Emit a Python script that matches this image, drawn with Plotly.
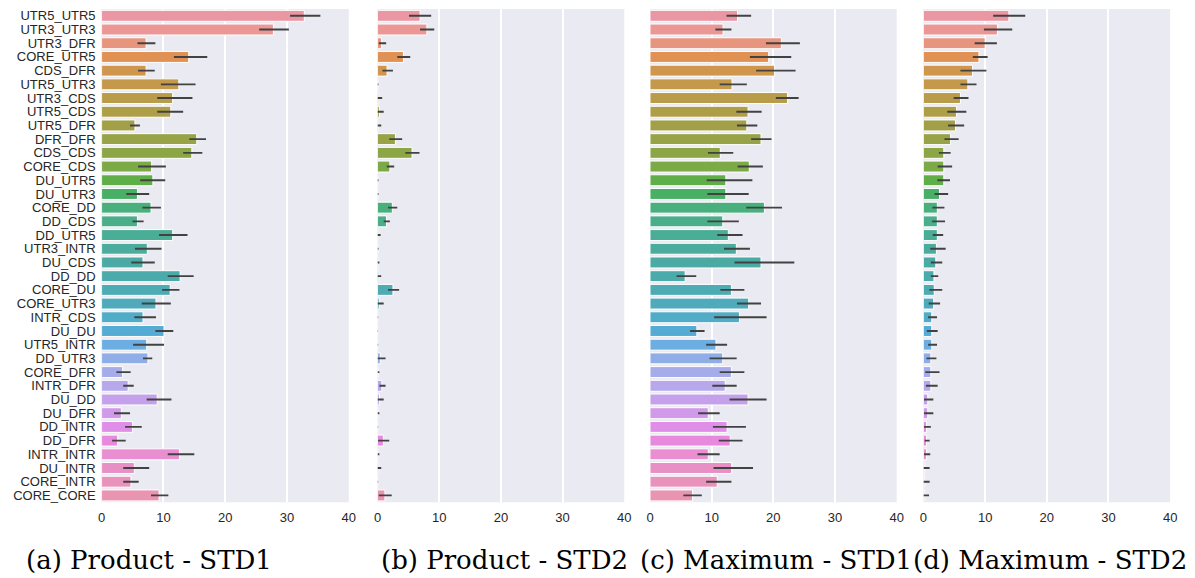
import math
import colorsys
import plotly.graph_objects as go

# ---- data -----------------------------------------------------------------
categories = [
    "UTR5_UTR5", "UTR3_UTR3", "UTR3_DFR", "CORE_UTR5", "CDS_DFR", "UTR5_UTR3",
    "UTR3_CDS", "UTR5_CDS", "UTR5_DFR", "DFR_DFR", "CDS_CDS", "CORE_CDS",
    "DU_UTR5", "DU_UTR3", "CORE_DD", "DD_CDS", "DD_UTR5", "UTR3_INTR",
    "DU_CDS", "DD_DD", "CORE_DU", "CORE_UTR3", "INTR_CDS", "DU_DU",
    "UTR5_INTR", "DD_UTR3", "CORE_DFR", "INTR_DFR", "DU_DD", "DU_DFR",
    "DD_INTR", "DD_DFR", "INTR_INTR", "DU_INTR", "CORE_INTR", "CORE_CORE",
]

# (a) Product - STD1
prod_std1 = [32.8, 27.8, 7.2, 14.1, 7.2, 12.5, 11.5, 11.2, 5.4, 15.4, 14.6, 8.1,
             8.3, 5.8, 8.0, 5.8, 11.5, 7.4, 6.7, 12.7, 11.1, 8.8, 6.7, 10.1,
             7.3, 7.5, 3.4, 4.3, 9.0, 3.2, 5.0, 2.6, 12.6, 5.3, 4.75, 9.3]
prod_std1_lo = [30.5, 25.5, 5.8, 11.7, 5.9, 9.6, 9.0, 9.0, 4.6, 14.2, 13.2, 5.9,
                6.25, 4.0, 6.6, 5.0, 9.3, 5.4, 4.8, 10.7, 9.8, 6.5, 5.3, 8.7,
                5.1, 6.7, 2.4, 3.5, 7.3, 2.0, 3.8, 1.7, 10.7, 3.5, 3.5, 8.0]
prod_std1_hi = [35.4, 30.3, 8.7, 17.1, 8.6, 15.2, 14.7, 13.2, 6.2, 16.9, 16.3, 10.4,
                10.3, 7.7, 9.6, 6.8, 13.9, 9.7, 8.6, 14.9, 12.6, 11.2, 8.8, 11.6,
                10.1, 8.2, 4.7, 5.2, 11.3, 4.6, 6.5, 3.9, 15.0, 7.7, 6.0, 10.8]

# (b) Product - STD2
prod_std2 = [6.9, 8.0, 0.64, 4.2, 1.55, 0.05, 0.2, 0.3, 0.1, 2.9, 5.6, 2.0,
             0.05, 0.05, 2.4, 1.45, 0.1, 0.05, 0.1, 0.2, 2.5, 0.27, 0.03, 0.02,
             0.03, 0.45, 0.1, 0.7, 0.3, 0.1, 0.03, 0.95, 0.1, 0.2, 0.03, 1.2]
prod_std2_lo = [5.1, 6.9, 0.2, 3.2, 0.8, 0.0, 0.0, 0.0, 0.0, 1.9, 4.5, 1.5,
                0.0, 0.0, 1.7, 1.0, 0.0, 0.0, 0.0, 0.0, 1.7, 0.0, 0.0, 0.0,
                0.0, 0.0, 0.0, 0.3, 0.0, 0.0, 0.0, 0.1, 0.0, 0.0, 0.0, 0.2]
prod_std2_hi = [8.7, 9.2, 1.4, 5.3, 2.5, 0.15, 0.75, 1.0, 0.6, 4.0, 6.8, 2.7,
                0.15, 0.15, 3.2, 2.0, 0.5, 0.15, 0.3, 0.6, 3.5, 1.0, 0.1, 0.08,
                0.1, 1.3, 0.3, 1.3, 1.0, 0.3, 0.1, 1.9, 0.3, 0.6, 0.1, 2.3]

# (c) Maximum - STD1
max_std1 = [14.2, 11.85, 21.3, 19.25, 20.2, 13.3, 22.3, 15.9, 15.7, 18.0, 11.4, 16.1,
            12.3, 12.3, 18.55, 11.8, 12.7, 14.0, 18.0, 5.7, 13.2, 16.0, 14.5, 7.6,
            10.7, 11.8, 13.2, 12.2, 15.9, 9.45, 12.5, 13.0, 9.45, 13.25, 10.9, 6.9]
max_std1_lo = [12.4, 10.6, 18.8, 16.2, 17.2, 11.3, 20.4, 14.0, 14.1, 16.4, 9.4, 14.2,
               9.2, 9.3, 15.6, 9.3, 10.9, 12.0, 13.7, 4.3, 11.4, 14.1, 10.4, 6.5,
               9.1, 9.65, 11.3, 10.1, 12.9, 7.8, 10.2, 11.15, 7.7, 10.3, 9.1, 5.4]
max_std1_hi = [16.4, 13.2, 24.3, 22.9, 23.6, 15.7, 24.1, 18.1, 17.4, 19.7, 13.5, 18.3,
               16.6, 16.0, 21.4, 14.4, 15.0, 16.2, 23.4, 7.5, 15.3, 18.0, 18.9, 8.85,
               12.5, 14.05, 15.3, 14.05, 18.9, 11.3, 15.55, 15.0, 11.3, 16.7, 13.2, 8.4]

# (d) Maximum - STD2
max_std2 = [13.85, 12.0, 10.0, 9.0, 7.95, 7.2, 6.0, 5.35, 5.2, 4.4, 3.3, 3.3,
            3.3, 2.6, 2.25, 2.25, 2.25, 2.1, 2.0, 1.7, 1.75, 1.65, 1.35, 1.35,
            1.35, 1.2, 1.2, 1.2, 0.7, 0.7, 0.5, 0.5, 0.5, 0.2, 0.2, 0.2]
max_std2_lo = [11.3, 9.8, 8.3, 8.0, 6.0, 6.0, 4.9, 3.85, 4.0, 3.4, 2.5, 2.3,
               2.25, 1.8, 1.45, 1.4, 1.5, 1.1, 1.2, 1.2, 0.95, 0.85, 0.75, 0.55,
               0.75, 0.5, 0.3, 0.4, 0.1, 0.1, 0.1, 0.2, 0.1, 0.0, 0.0, 0.0]
max_std2_hi = [16.5, 14.4, 11.9, 10.4, 10.2, 8.6, 7.3, 6.95, 6.6, 5.7, 4.4, 4.65,
               4.3, 4.0, 3.4, 3.5, 3.2, 3.6, 3.05, 2.4, 3.05, 2.7, 2.2, 2.3,
               2.2, 2.1, 2.6, 2.3, 1.6, 1.6, 1.2, 1.0, 1.1, 1.0, 1.0, 0.9]

x_ticks = [0, 10, 20, 30, 40]

captions = ["(a) Product - STD1", "(b) Product - STD2",
            "(c) Maximum - STD1", "(d) Maximum - STD2"]

# ---- HUSL palette (evenly spaced hues, desaturated like seaborn bars) -----
_M = [[3.2406, -1.5372, -0.4986],
      [-0.9689, 1.8758, 0.0415],
      [0.0557, -0.2040, 1.0570]]
_REF_U, _REF_V = 0.19784, 0.46834
_LAB_E, _LAB_K = 0.008856, 903.3


def _max_chroma(L, H):
    hrad = math.radians(H)
    sin_h, cos_h = math.sin(hrad), math.cos(hrad)
    sub1 = (L + 16) ** 3 / 1560896.0
    sub2 = sub1 if sub1 > _LAB_E else L / _LAB_K
    result = float("inf")
    for m1, m2, m3 in _M:
        top = (0.99915 * m1 + 1.05122 * m2 + 1.14460 * m3) * sub2
        rbottom = 0.86330 * m3 - 0.17266 * m2
        lbottom = 0.12949 * m3 - 0.38848 * m1
        bottom = (rbottom * sin_h + lbottom * cos_h) * sub2
        for t in (0.0, 1.0):
            c = L * (top - 1.05122 * t) / (bottom + 0.17266 * sin_h * t)
            if 0.0 < c < result:
                result = c
    return result


def _f_inv(t):
    return t ** 3 if t ** 3 > _LAB_E else (116.0 * t - 16.0) / _LAB_K


def _from_linear(c):
    return 12.92 * c if c <= 0.0031308 else 1.055 * c ** (1 / 2.4) - 0.055


def husl_to_rgb(h, s, l):
    C = _max_chroma(l, h) / 100.0 * s
    U = math.cos(math.radians(h)) * C
    V = math.sin(math.radians(h)) * C
    var_y = _f_inv((l + 16.0) / 116.0)
    var_u = U / (13.0 * l) + _REF_U
    var_v = V / (13.0 * l) + _REF_V
    Y = var_y
    X = -(9.0 * Y * var_u) / ((var_u - 4.0) * var_v - var_u * var_v)
    Z = (9.0 * Y - 15.0 * var_v * Y - var_v * X) / (3.0 * var_v)
    rgb = [_from_linear(r[0] * X + r[1] * Y + r[2] * Z) for r in _M]
    return [min(max(v, 0.0), 1.0) for v in rgb]


def husl_palette(n, h=0.01, s=0.9, l=0.7, sat=0.75):
    out = []
    for i in range(n):
        hue = ((i / n + h) % 1) * 359
        r, g, b = husl_to_rgb(hue, s * 99, l * 99)
        hh, ll, ss = colorsys.rgb_to_hls(r, g, b)
        r, g, b = colorsys.hls_to_rgb(hh, ll, ss * sat)
        out.append("rgb(%d,%d,%d)" % (round(r * 255), round(g * 255), round(b * 255)))
    return out


bar_colors = husl_palette(len(categories))

# ---- figure ---------------------------------------------------------------
W, H = 1195, 578
panel_px = [(98.5, 348), (377, 626), (652, 901), (928, 1177)]
plot_top, plot_bottom = 8, 503
caption_cx = [146, 505, 779, 1056]

panels = [
    (prod_std1, prod_std1_lo, prod_std1_hi),
    (prod_std2, prod_std2_lo, prod_std2_hi),
    (max_std1, max_std1_lo, max_std1_hi),
    (max_std2, max_std2_lo, max_std2_hi),
]

BG = "#EAEAF2"
TXT = "#262626"
ERR = "#424242"

fig = go.Figure()
layout = dict(
    width=W, height=H, margin=dict(l=0, r=0, t=0, b=0),
    paper_bgcolor="white", plot_bgcolor=BG, showlegend=False,
    bargap=0.2, font=dict(family="Liberation Sans, Arial, sans-serif",
                          size=13, color=TXT),
)

for i, (vals, lo, hi) in enumerate(panels):
    k = "" if i == 0 else str(i + 1)
    fig.add_trace(go.Bar(
        x=vals, y=categories, orientation="h",
        xaxis="x" + k, yaxis="y" + k,
        marker=dict(color=bar_colors, line=dict(color="white", width=1)),
        error_x=dict(type="data", symmetric=False,
                     array=[h_ - v for h_, v in zip(hi, vals)],
                     arrayminus=[v - l_ for v, l_ in zip(vals, lo)],
                     color=ERR, thickness=1.9, width=0),
        hoverinfo="x+y",
    ))
    x0, x1 = panel_px[i]
    layout["xaxis" + k] = dict(
        domain=[x0 / W, x1 / W], anchor="y" + k, range=[0, 40],
        tickvals=x_ticks, showgrid=True, gridcolor="white", gridwidth=1.6,
        zeroline=False, showline=False, ticks="", ticklabelstandoff=6,
        tickfont=dict(size=13, color=TXT),
    )
    layout["yaxis" + k] = dict(
        domain=[1 - plot_bottom / H, 1 - plot_top / H], anchor="x" + k,
        type="category", categoryorder="array", categoryarray=categories,
        tickmode="array", tickvals=categories, ticktext=categories,
        range=[len(categories) - 0.5, -0.5], showgrid=False, zeroline=False,
        showline=False, ticks="", showticklabels=(i == 0),
        ticklabelstandoff=5, tickfont=dict(size=13, color=TXT),
    )

fig.update_layout(**layout)

for cx, text in zip(caption_cx, captions):
    fig.add_annotation(
        x=cx / W, y=1 - 561 / H, xref="paper", yref="paper",
        text=text, showarrow=False, xanchor="center", yanchor="middle",
        font=dict(family="DejaVu Serif, serif", size=26, color="black"),
    )

fig.write_html("out.html")
